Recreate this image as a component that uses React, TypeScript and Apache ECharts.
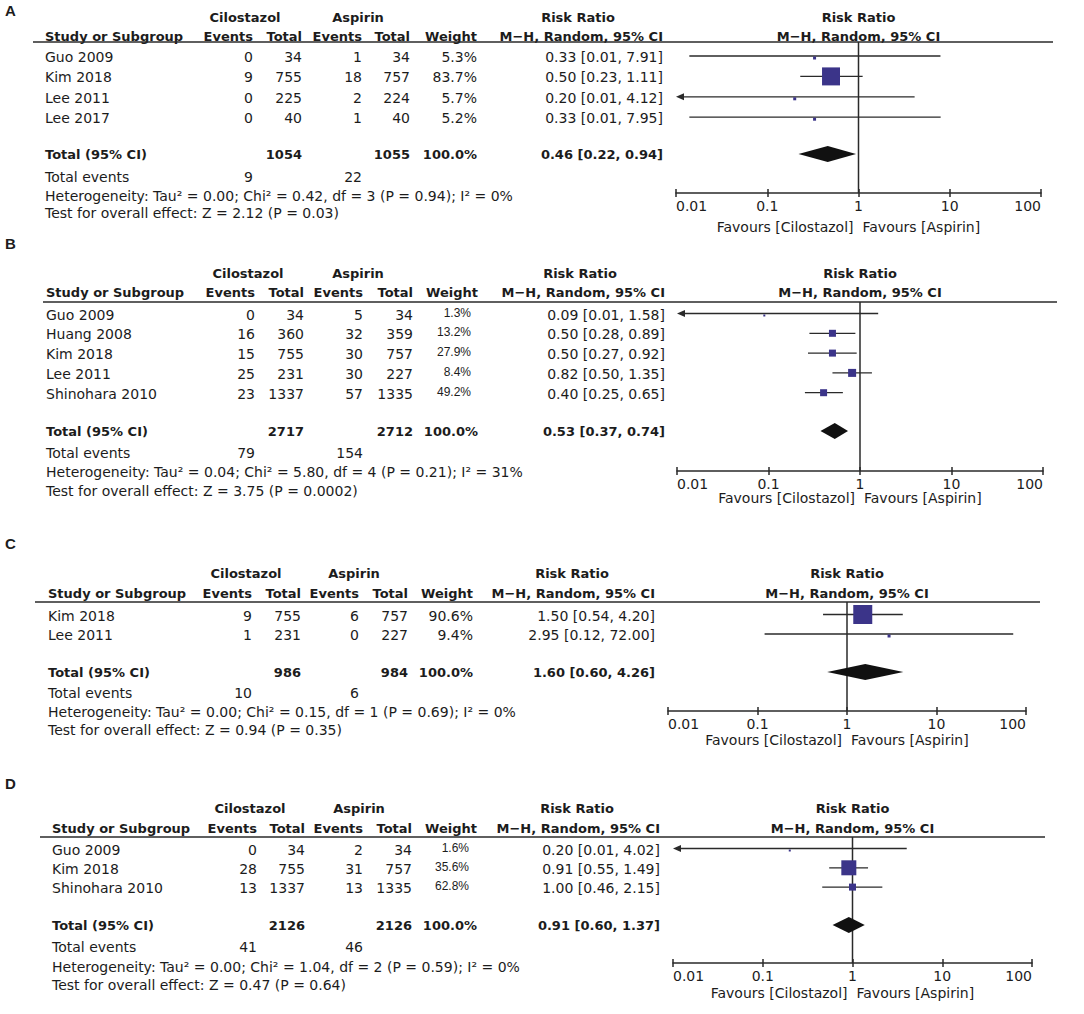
import React, { useEffect, useRef } from 'react';
import * as echarts from 'echarts';

// ---------- DATA ----------
// Panel A
const studiesA = ['Guo 2009', 'Kim 2018', 'Lee 2011', 'Lee 2017'];
const cilEventsA = [0, 9, 0, 0];
const cilTotalA = [34, 755, 225, 40];
const aspEventsA = [1, 18, 2, 1];
const aspTotalA = [34, 757, 224, 40];
const weightA = [5.3, 83.7, 5.7, 5.2];
const rrA = [0.33, 0.5, 0.2, 0.33];
const loA = [0.014, 0.23, 0.0096, 0.014];
const hiA = [7.91, 1.11, 4.12, 7.95];
const pooledA = [0.46, 0.22, 0.94];
const hetA = ['0.00', '0.42', '3', '0.94', '0%'];
const testA = ['2.12', '0.03'];

// Panel B
const studiesB = ['Guo 2009', 'Huang 2008', 'Kim 2018', 'Lee 2011', 'Shinohara 2010'];
const cilEventsB = [0, 16, 15, 25, 23];
const cilTotalB = [34, 360, 755, 231, 1337];
const aspEventsB = [5, 32, 30, 30, 57];
const aspTotalB = [34, 359, 757, 227, 1335];
const weightB = [1.3, 13.2, 27.9, 8.4, 49.2];
const rrB = [0.09, 0.5, 0.5, 0.82, 0.4];
const loB = [0.0052, 0.28, 0.27, 0.5, 0.25];
const hiB = [1.58, 0.89, 0.92, 1.35, 0.65];
const pooledB = [0.53, 0.37, 0.74];
const hetB = ['0.04', '5.80', '4', '0.21', '31%'];
const testB = ['3.75', '0.0002'];

// Panel C
const studiesC = ['Kim 2018', 'Lee 2011'];
const cilEventsC = [9, 1];
const cilTotalC = [755, 231];
const aspEventsC = [6, 0];
const aspTotalC = [757, 227];
const weightC = [90.6, 9.4];
const rrC = [1.5, 2.95];
const loC = [0.54, 0.12];
const hiC = [4.2, 72.0];
const pooledC = [1.6, 0.6, 4.26];
const hetC = ['0.00', '0.15', '1', '0.69', '0%'];
const testC = ['0.94', '0.35'];

// Panel D
const studiesD = ['Guo 2009', 'Kim 2018', 'Shinohara 2010'];
const cilEventsD = [0, 28, 13];
const cilTotalD = [34, 755, 1337];
const aspEventsD = [2, 31, 13];
const aspTotalD = [34, 757, 1335];
const weightD = [1.6, 35.6, 62.8];
const rrD = [0.2, 0.91, 1.0];
const loD = [0.0099, 0.55, 0.46];
const hiD = [4.02, 1.49, 2.15];
const pooledD = [0.91, 0.6, 1.37];
const hetD = ['0.00', '1.04', '2', '0.59', '0%'];
const testD = ['0.47', '0.64'];

const totalWeightLabel = '100.0%';
const tickValues = [0.01, 0.1, 1, 10, 100];

// ---------- LAYOUT / STYLE ----------
const TEXT = '#1c1c1c';
const LINE = '#2a2a2a';
const BOX = '#3b3489';
const FONT = 'DejaVu Sans';
const AX_MIN = 0.01;
const AX_MAX = 100;

const layouts = [
  { label: 'A', labelY: 10, head1Y: 17, head2Y: 36, lineY: 42, lineX0: 33, lineX1: 1053, rowY0: 56, rowStep: 20.4, totalY: 154, eventsY: 177, hetY: 196, testY: 213, axisY: 193, favY: 227, studyX: 45, cols: [253, 302, 362, 410, 477, 663], weightHeadR: 477, cilC: 245, aspC: 358, rrHeadC: 578, x0: 676, x100: 1041, smallWeight: false, box: [3, 18, 3, 3] },
  { label: 'B', labelY: 243, head1Y: 273, head2Y: 292, lineY: 302, lineX0: 43, lineX1: 1057, rowY0: 313.5, rowStep: 19.8, totalY: 431, eventsY: 453, hetY: 472, testY: 491, axisY: 471, favY: 498, studyX: 46, cols: [255, 304, 363, 413, 471, 665], weightHeadR: 478, cilC: 248, aspC: 358, rrHeadC: 580, x0: 677, x100: 1043, smallWeight: true, box: [2, 7, 7, 8, 7] },
  { label: 'C', labelY: 543, head1Y: 573, head2Y: 593, lineY: 602, lineX0: 35, lineX1: 1040, rowY0: 614.5, rowStep: 19.5, totalY: 672, eventsY: 693, hetY: 712, testY: 730, axisY: 711, favY: 740, studyX: 48, cols: [252, 301, 359, 408, 473, 655], weightHeadR: 473, cilC: 246, aspC: 354, rrHeadC: 572, x0: 668, x100: 1026, smallWeight: false, box: [19, 3] },
  { label: 'D', labelY: 783, head1Y: 808, head2Y: 828, lineY: 837, lineX0: 40, lineX1: 1045, rowY0: 848.5, rowStep: 19.3, totalY: 925, eventsY: 947, hetY: 967, testY: 985, axisY: 963, favY: 993, studyX: 52, cols: [257, 305, 363, 412, 469, 660], weightHeadR: 477, cilC: 250, aspC: 359, rrHeadC: 577, x0: 673, x100: 1032, smallWeight: true, box: [2, 15, 7] },
];

const panelsData = [
  { studies: studiesA, cilE: cilEventsA, cilT: cilTotalA, aspE: aspEventsA, aspT: aspTotalA, w: weightA, rr: rrA, lo: loA, hi: hiA, pooled: pooledA, het: hetA, test: testA },
  { studies: studiesB, cilE: cilEventsB, cilT: cilTotalB, aspE: aspEventsB, aspT: aspTotalB, w: weightB, rr: rrB, lo: loB, hi: hiB, pooled: pooledB, het: hetB, test: testB },
  { studies: studiesC, cilE: cilEventsC, cilT: cilTotalC, aspE: aspEventsC, aspT: aspTotalC, w: weightC, rr: rrC, lo: loC, hi: hiC, pooled: pooledC, het: hetC, test: testC },
  { studies: studiesD, cilE: cilEventsD, cilT: cilTotalD, aspE: aspEventsD, aspT: aspTotalD, w: weightD, rr: rrD, lo: loD, hi: hiD, pooled: pooledD, het: hetD, test: testD },
];

const sum = (a: number[]) => a.reduce((s, v) => s + v, 0);
const f2 = (v: number) => v.toFixed(2);

function txt(x: number, y: number, text: string, align: string, opts: any = {}) {
  return {
    type: 'text',
    x,
    y,
    silent: true,
    style: {
      text,
      fill: TEXT,
      fontFamily: opts.family || FONT,
      fontSize: opts.size || 14,
      fontWeight: opts.bold ? 'bold' : 'normal',
      align,
      verticalAlign: 'middle',
      textAlign: align,
      textVerticalAlign: 'middle',
    },
  };
}

function buildOption() {
  const grid: any[] = [];
  const xAxis: any[] = [];
  const yAxis: any[] = [];
  const series: any[] = [];
  const graphic: any[] = [];

  layouts.forEach((L, k) => {
    const D = panelsData[k];
    const h = L.axisY - L.lineY;
    const x1 = (L.x0 + L.x100) / 2;
    grid.push({ left: L.x0, top: L.lineY, width: L.x100 - L.x0, height: h, containLabel: false });
    const labelFmt = (v: number) => (v < 1 ? String(+v.toPrecision(1)) : String(Math.round(v)));
    xAxis.push({
      type: 'log', logBase: 10, gridIndex: k, min: AX_MIN, max: AX_MAX, position: 'bottom',
      axisLine: { show: true, onZero: false, lineStyle: { color: LINE, width: 1.5 } },
      axisTick: { show: true, inside: false, length: 4, lineStyle: { color: LINE, width: 1.5 } },
      axisLabel: {
        show: true, margin: 6, color: TEXT, fontFamily: FONT, fontSize: 14,
        formatter: labelFmt, showMinLabel: true, showMaxLabel: true,
        alignMinLabel: 'left', alignMaxLabel: 'right',
        customValues: tickValues,
      },
      splitLine: { show: false },
    });
    xAxis.push({
      type: 'log', logBase: 10, gridIndex: k, min: AX_MIN, max: AX_MAX, position: 'bottom', offset: 0,
      axisLine: { show: false, onZero: false },
      axisTick: { show: true, inside: true, length: 4, lineStyle: { color: LINE, width: 1.5 } },
      axisLabel: { show: false },
      splitLine: { show: false },
    });
    yAxis.push({ type: 'value', gridIndex: k, min: 0, max: h, inverse: true, show: false, splitLine: { show: false } });

    // vertical line of no effect
    series.push({
      type: 'line', xAxisIndex: 2 * k, yAxisIndex: k, data: [[1, 0], [1, h]], symbol: 'none', silent: true,
      lineStyle: { color: LINE, width: 1.5 }, z: 1,
    });

    // studies
    const box = L.box;
    series.push({
      type: 'custom', xAxisIndex: 2 * k, yAxisIndex: k, clip: false, silent: true, z: 3,
      data: D.rr.map((r, i) => [r, L.rowY0 + i * L.rowStep - L.lineY, D.lo[i], D.hi[i], i]),
      renderItem: (params: any, api: any) => {
        const rr = api.value(0), yv = api.value(1), lo = api.value(2), hi = api.value(3), i = api.value(4);
        const c = api.coord([rr, yv]);
        const pl = api.coord([Math.max(lo, AX_MIN), yv]);
        const ph = api.coord([Math.min(hi, AX_MAX), yv]);
        const arrowL = lo < AX_MIN;
        const arrowR = hi > AX_MAX;
        const children: any[] = [];
        children.push({ type: 'line', shape: { x1: pl[0] + (arrowL ? 6 : 0), y1: c[1], x2: ph[0] - (arrowR ? 6 : 0), y2: c[1] }, style: { stroke: LINE, lineWidth: 1.3 } });
        if (arrowL) children.push({ type: 'polygon', shape: { points: [[pl[0], c[1]], [pl[0] + 8, c[1] - 3.5], [pl[0] + 8, c[1] + 3.5]] }, style: { fill: LINE } });
        if (arrowR) children.push({ type: 'polygon', shape: { points: [[ph[0], c[1]], [ph[0] - 8, c[1] - 3.5], [ph[0] - 8, c[1] + 3.5]] }, style: { fill: LINE } });
        const s = box[i];
        const dy = s <= 3 ? 2 : 0;
        children.push({ type: 'rect', shape: { x: c[0] - s / 2, y: c[1] - s / 2 + dy, width: s, height: s }, style: { fill: BOX } });
        return { type: 'group', children };
      },
    });

    // pooled diamond
    series.push({
      type: 'custom', xAxisIndex: 2 * k, yAxisIndex: k, clip: false, silent: true, z: 3,
      data: [[D.pooled[0], L.totalY - L.lineY, D.pooled[1], D.pooled[2]]],
      renderItem: (params: any, api: any) => {
        const yv = api.value(1);
        const c = api.coord([api.value(0), yv]);
        const l = api.coord([api.value(2), yv]);
        const r = api.coord([api.value(3), yv]);
        const hh = 8;
        return { type: 'polygon', shape: { points: [[l[0], c[1]], [c[0], c[1] - hh], [r[0], c[1]], [c[0], c[1] + hh]] }, style: { fill: '#111111' } };
      },
    });

    // ---------- table text ----------
    graphic.push(txt(5, L.labelY, L.label, 'left', { bold: true, size: 15, family: 'Liberation Sans' }));
    graphic.push(txt(L.cilC, L.head1Y, 'Cilostazol', 'center', { bold: true, size: 13 }));
    graphic.push(txt(L.aspC, L.head1Y, 'Aspirin', 'center', { bold: true, size: 13 }));
    graphic.push(txt(L.rrHeadC, L.head1Y, 'Risk Ratio', 'center', { bold: true, size: 13 }));
    graphic.push(txt(x1, L.head1Y, 'Risk Ratio', 'center', { bold: true, size: 13 }));
    graphic.push(txt(L.studyX, L.head2Y, 'Study or Subgroup', 'left', { bold: true, size: 13 }));
    graphic.push(txt(L.cols[0], L.head2Y, 'Events', 'right', { bold: true, size: 13 }));
    graphic.push(txt(L.cols[1], L.head2Y, 'Total', 'right', { bold: true, size: 13 }));
    graphic.push(txt(L.cols[2], L.head2Y, 'Events', 'right', { bold: true, size: 13 }));
    graphic.push(txt(L.cols[3], L.head2Y, 'Total', 'right', { bold: true, size: 13 }));
    graphic.push(txt(L.weightHeadR, L.head2Y, 'Weight', 'right', { bold: true, size: 13 }));
    graphic.push(txt(L.cols[5], L.head2Y, 'M\u2212H, Random, 95% CI', 'right', { bold: true, size: 13 }));
    graphic.push(txt(x1, L.head2Y, 'M\u2212H, Random, 95% CI', 'center', { bold: true, size: 13 }));
    graphic.push({ type: 'line', silent: true, shape: { x1: L.lineX0, y1: L.lineY, x2: L.lineX1, y2: L.lineY }, style: { stroke: LINE, lineWidth: 1.5 } });

    D.studies.forEach((s, i) => {
      const y = L.rowY0 + i * L.rowStep + 1;
      graphic.push(txt(L.studyX, y, s, 'left'));
      graphic.push(txt(L.cols[0], y, String(D.cilE[i]), 'right'));
      graphic.push(txt(L.cols[1], y, String(D.cilT[i]), 'right'));
      graphic.push(txt(L.cols[2], y, String(D.aspE[i]), 'right'));
      graphic.push(txt(L.cols[3], y, String(D.aspT[i]), 'right'));
      graphic.push(txt(L.cols[4], L.smallWeight ? y - 2 : y, D.w[i].toFixed(1) + '%', 'right', L.smallWeight ? { size: 12, family: 'Liberation Sans' } : {}));
      graphic.push(txt(L.cols[5], y, `${f2(D.rr[i])} [${f2(D.lo[i])}, ${f2(D.hi[i])}]`, 'right'));
    });

    const ty = L.totalY;
    graphic.push(txt(L.studyX, ty, 'Total (95% CI)', 'left', { bold: true, size: 13 }));
    graphic.push(txt(L.cols[1], ty, String(sum(D.cilT)), 'right', { bold: true, size: 13 }));
    graphic.push(txt(L.cols[3], ty, String(sum(D.aspT)), 'right', { bold: true, size: 13 }));
    graphic.push(txt(L.weightHeadR, ty, totalWeightLabel, 'right', { bold: true, size: 13 }));
    graphic.push(txt(L.cols[5], ty, `${f2(D.pooled[0])} [${f2(D.pooled[1])}, ${f2(D.pooled[2])}]`, 'right', { bold: true, size: 13 }));

    graphic.push(txt(L.studyX, L.eventsY, 'Total events', 'left'));
    graphic.push(txt(L.cols[0], L.eventsY, String(sum(D.cilE)), 'right'));
    graphic.push(txt(L.cols[2], L.eventsY, String(sum(D.aspE)), 'right'));
    const H = D.het;
    graphic.push(txt(L.studyX, L.hetY, `Heterogeneity: Tau\u00B2 = ${H[0]}; Chi\u00B2 = ${H[1]}, df = ${H[2]} (P = ${H[3]}); I\u00B2 = ${H[4]}`, 'left'));
    graphic.push(txt(L.studyX, L.testY, `Test for overall effect: Z = ${D.test[0]} (P = ${D.test[1]})`, 'left'));

    graphic.push(txt(x1 - 5, L.favY, 'Favours [Cilostazol]', 'right'));
    graphic.push(txt(x1 + 4, L.favY, 'Favours [Aspirin]', 'left'));
  });

  return {
    animation: false,
    backgroundColor: '#ffffff',
    textStyle: { fontFamily: FONT },
    grid,
    xAxis,
    yAxis,
    series,
    graphic,
  };
}

export default function App() {
  const ref = useRef<HTMLDivElement>(null);
  useEffect(() => {
    document.body.style.margin = '0';
    const chart = echarts.init(ref.current as HTMLDivElement, undefined, { renderer: 'svg' });
    chart.setOption(buildOption() as any);
    return () => chart.dispose();
  }, []);
  return <div ref={ref} style={{ position: 'absolute', left: 0, top: 0, width: 1084, height: 1014, background: '#fff' }} />;
}
